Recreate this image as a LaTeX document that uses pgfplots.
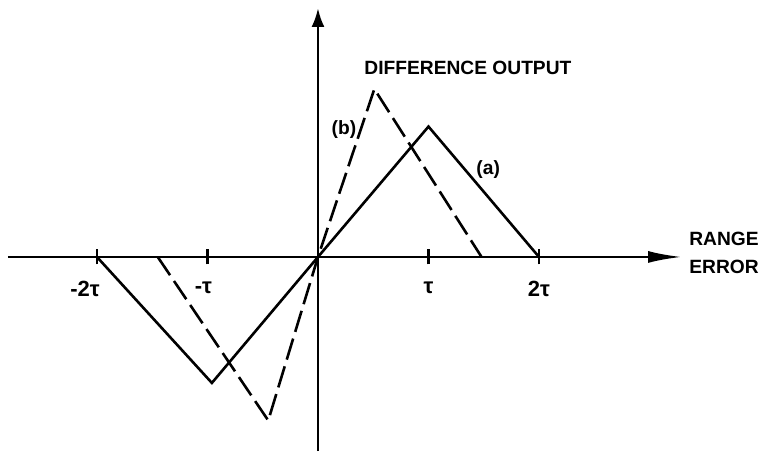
\documentclass[border=0pt]{standalone}
\usepackage{fontspec}
\setmainfont{Liberation Sans}
\usepackage{pgfplots}
\pgfplotsset{compat=1.18}
\usetikzlibrary{arrows.meta}

\newcommand{\lbl}{\bfseries\fontsize{9.6}{11}\selectfont}
\newcommand{\tlbl}{\bfseries\fontsize{11}{12}\selectfont}

\begin{document}
\begin{tikzpicture}
\useasboundingbox (-4pt,0pt) rectangle (376.5pt,225.5pt);
\begin{axis}[
  at={(0pt,0pt)}, anchor=south west,
  scale only axis, width=337pt, height=221.5pt,
  xmin=-2.805, xmax=3.294, ymin=-1.756, ymax=2.253,
  axis lines=middle,
  clip=false,
  axis line style={line width=1.4pt},
  x axis line style={-{Latex[length=17pt,width=6pt]}},
  y axis line style={-{Latex[length=9.5pt,width=6.5pt]}},
  xtick={-2,-1,1,2},
  xticklabels={\hspace*{-12pt}-2τ,\hspace*{-4pt}-τ,τ,2τ},
  ytick=\empty,
  tick align=center,
  major tick length=7.5pt,
  tick style={line width=1.1pt, black},
  xticklabel style={font=\tlbl, anchor=north, yshift=-5pt},
]
% (a) solid response
\addplot[line width=1.3pt, black] coordinates {
  (-2,0) (-0.96,-1.14) (0,0) (1,1.18) (2,0)
};
% (b) dashed response
\addplot[line width=1.3pt, black, dash pattern=on 11pt off 3.5pt] coordinates {
  (-1.45,0) (-0.45,-1.48) (0,0) (0.51,1.52) (1.48,0)
};
\node[font=\lbl] at (axis cs:1.357,1.71) {DIFFERENCE OUTPUT};
\node[font=\lbl] at (axis cs:0.235,1.15) {(b)};
\node[font=\lbl] at (axis cs:1.54,0.79) {(a)};
\node[font=\lbl, align=center, inner sep=0pt] at (axis cs:3.674,0.04) {RANGE\\[3pt]ERROR};
\end{axis}
\end{tikzpicture}
\end{document}
